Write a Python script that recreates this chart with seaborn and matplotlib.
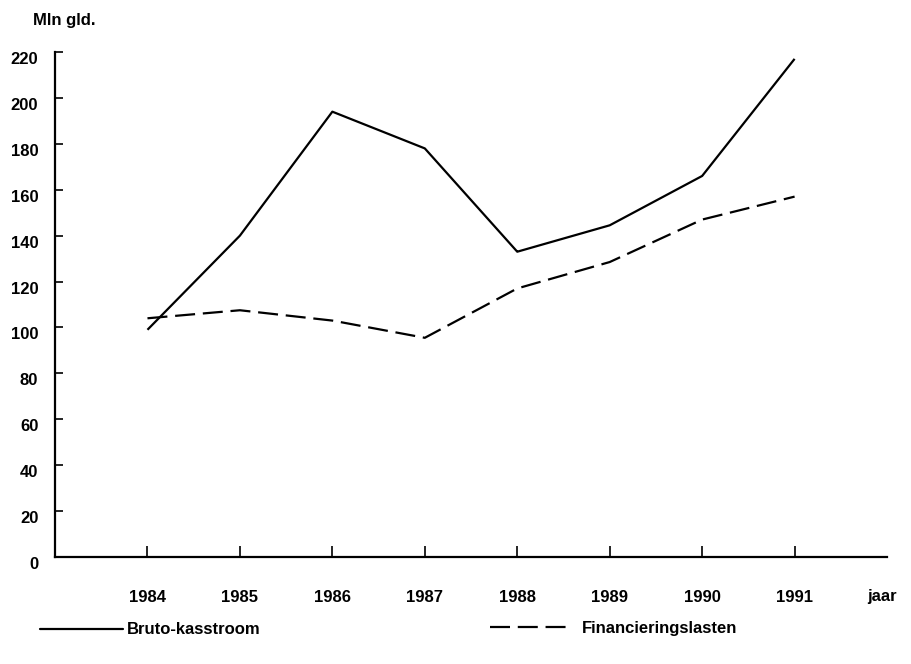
import matplotlib
matplotlib.use("Agg")
import matplotlib.pyplot as plt
import seaborn as sns
import pandas as pd
from matplotlib.lines import Line2D

years = [1984, 1985, 1986, 1987, 1988, 1989, 1990, 1991]
bruto_kasstroom = [99, 140, 194, 178, 133, 144.5, 166, 217]
financieringslasten = [104, 107.5, 103, 95.5, 117, 128.5, 147, 157]
series_names = ["Bruto-kasstroom", "Financieringslasten"]
y_ticks = list(range(0, 221, 20))

df = pd.DataFrame({
    "jaar": years * 2,
    "waarde": bruto_kasstroom + financieringslasten,
    "reeks": [series_names[0]] * len(years) + [series_names[1]] * len(years),
})

sns.set_theme(style="white")
plt.rcParams["font.family"] = ["Liberation Sans", "DejaVu Sans"]
plt.rcParams["font.weight"] = "bold"
plt.rcParams["text.color"] = "black"
plt.rcParams["xtick.color"] = "black"
plt.rcParams["ytick.color"] = "black"

fig = plt.figure(figsize=(9.11, 6.64), dpi=100)
ax = fig.add_axes([0.0604, 0.1611, 0.9133, 0.7606])

sns.lineplot(data=df, x="jaar", y="waarde", hue="reeks", style="reeks",
             palette=["black", "black"], dashes=[(1, 0), (9, 3.5)],
             linewidth=1.6, legend=False, ax=ax)

fs = 12
ax.set_xlim(1983, 1992)
ax.set_ylim(0, 220)
ax.set_xticks(years)
ax.set_xticklabels([str(y) for y in years], fontsize=fs, fontweight="bold")
ax.set_yticks(y_ticks)
ax.set_yticklabels([str(v) for v in y_ticks], fontsize=fs, fontweight="bold")
ax.tick_params(axis="x", bottom=True, direction="in", length=8, width=1.2,
               pad=24, colors="black")
ax.tick_params(axis="y", left=True, direction="in", length=6, width=1.2,
               pad=12, colors="black")
for lbl in ax.get_yticklabels():
    lbl.set_va("top")
for s in ["top", "right"]:
    ax.spines[s].set_visible(False)
for s in ["left", "bottom"]:
    ax.spines[s].set_color("black")
    ax.spines[s].set_linewidth(1.6)
ax.set_xlabel("")
ax.set_ylabel("")

fig.text(33 / 911, 1 - 20 / 664, "Mln gld.", fontsize=fs, fontweight="bold",
         ha="left", va="center", color="black")
fig.text(882 / 911, 1 - 597 / 664, "jaar", fontsize=fs, fontweight="bold",
         ha="center", va="center", color="black")

h1 = Line2D([], [], color="black", lw=1.6)
h2 = Line2D([], [], color="black", lw=1.6, dashes=(9, 3.5))
fig.legend([h1], [series_names[0]], loc="center left",
           bbox_to_anchor=(25 / 911, 1 - 630 / 664), frameon=False,
           prop={"size": fs, "weight": "bold"}, handlelength=5.0,
           handletextpad=0.2, labelcolor="black")
fig.legend([h2], [series_names[1]], loc="center left",
           bbox_to_anchor=(475 / 911, 1 - 628 / 664), frameon=False,
           prop={"size": fs, "weight": "bold"}, handlelength=5.0,
           handletextpad=0.5, labelcolor="black")

fig.savefig("out.png", dpi=100, facecolor="white")
